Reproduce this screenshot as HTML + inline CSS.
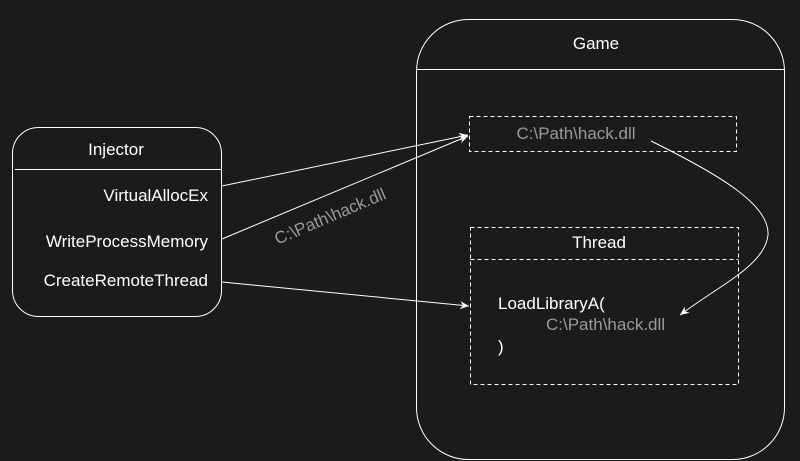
<!DOCTYPE html>
<html><head><style>
html,body{margin:0;padding:0;background:#1b1b1b;width:800px;height:461px;overflow:hidden;}
svg{display:block;}
text{font-family:"Liberation Sans",Arial,sans-serif;font-size:17px;}
</style></head><body>
<svg width="800" height="461" viewBox="0 0 800 461" xmlns="http://www.w3.org/2000/svg">
<rect width="800" height="461" fill="#1b1b1b"/>
<defs><marker id="a" markerWidth="10" markerHeight="8" refX="9" refY="4" orient="auto" markerUnits="userSpaceOnUse"><path d="M0,0 L9,4 L0,8 L3,4 Z" fill="#fff"/></marker></defs>
<rect x="12.5" y="127.5" width="209" height="189" rx="26" fill="#1b1b1b" stroke="#fff"/>
<line x1="15" y1="169.5" x2="221" y2="169.5" stroke="#fff"/>
<text x="116" y="155" fill="#fff" text-anchor="middle">Injector</text>
<text x="208" y="201" fill="#fff" text-anchor="end">VirtualAllocEx</text>
<text x="208" y="247" fill="#fff" text-anchor="end">WriteProcessMemory</text>
<text x="208" y="286" fill="#fff" text-anchor="end">CreateRemoteThread</text>
<rect x="416.5" y="19.5" width="368" height="440" rx="52" fill="#1b1b1b" stroke="#fff"/>
<line x1="416.5" y1="69.5" x2="784.5" y2="69.5" stroke="#fff"/>
<text x="596" y="49" fill="#fff" text-anchor="middle">Game</text>
<rect x="469.5" y="116.5" width="267" height="35" fill="none" stroke="#fff" stroke-dasharray="4,3"/>
<text x="576" y="139" fill="#9a9a9a" text-anchor="middle">C:\Path\hack.dll</text>
<rect x="470.5" y="227.5" width="268" height="157" fill="none" stroke="#fff" stroke-dasharray="4,3"/>
<line x1="470.5" y1="259.5" x2="738.5" y2="259.5" stroke="#fff" stroke-dasharray="4,3"/>
<text x="599" y="248" fill="#fff" text-anchor="middle">Thread</text>
<text x="498" y="309" fill="#fff">LoadLibraryA(</text>
<text x="546" y="330" fill="#9a9a9a">C:\Path\hack.dll</text>
<text x="498" y="352" fill="#fff">)</text>
<line x1="222" y1="186" x2="468" y2="135" stroke="#fff" marker-end="url(#a)"/>
<line x1="222" y1="239" x2="468" y2="136" stroke="#fff" marker-end="url(#a)"/>
<line x1="222" y1="282" x2="469" y2="306" stroke="#fff" marker-end="url(#a)"/>
<path d="M651,141 C720,175 770,205 768,235 C765,265 720,285 680,315" fill="none" stroke="#fff" marker-end="url(#a)"/>
<text x="330" y="222" fill="#9a9a9a" text-anchor="middle" transform="rotate(-23 330 216)">C:\Path\hack.dll</text>
</svg>
</body></html>
